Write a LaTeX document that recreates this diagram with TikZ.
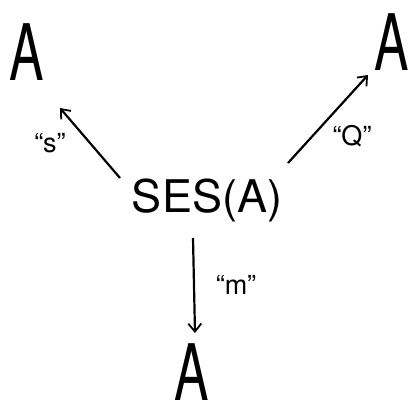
\documentclass[tikz,border=0pt]{standalone}
\usepackage{fontspec}
\setmainfont{TeX Gyre Heros}
\usetikzlibrary{arrows.meta,calc}
\begin{document}
\begin{tikzpicture}[x=1pt,y=-1pt,
  bigA/.style={inner sep=0pt,font=\fontsize{60}{60}\selectfont,xscale=0.86,yscale=1.3,transform shape},
  mid/.style={inner sep=0pt,font=\fontsize{45}{45}\selectfont},
  lbl/.style={inner sep=0pt,font=\fontsize{27}{27}\selectfont},
  arr/.style={line width=2.2pt,-{Straight Barb[length=8pt,width=13pt,line width=1.8pt]}}]
\useasboundingbox (0,0) rectangle (410,407);
\node[bigA] (A1) at (27,52) {A};
\node[bigA] (A2) at (392,42) {A};
\node[bigA] (A3) at (192,372) {A};
\node[mid] (ses) at (207,200) {SES(A)};
\coordinate (s1) at ([shift={(-87,-22)}]ses.center);
\coordinate (e1) at ([shift={(33,56)}]A1.center);
\coordinate (s2) at ([shift={(81,-37)}]ses.center);
\coordinate (e2) at ([shift={(-24,33)}]A2.center);
\coordinate (s3) at ([shift={(-14,38)}]ses.center);
\coordinate (e3) at ([shift={(3,-39)}]A3.center);
\draw[arr] (s1) -- (e1);
\draw[arr] (s2) -- (e2);
\draw[arr] (s3) -- (e3);
\node[lbl] (ls) at (50,143) {``s''};
\node[lbl] (lq) at (352,136) {``Q''};
\node[lbl] (lm) at (236,285) {``m''};
\end{tikzpicture}
\end{document}
